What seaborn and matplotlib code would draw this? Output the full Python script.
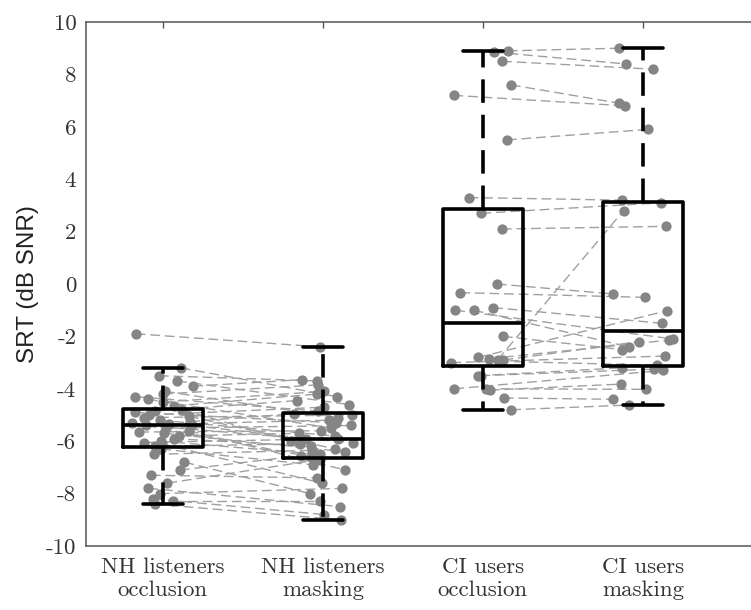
import numpy as np
import pandas as pd
import matplotlib
matplotlib.use("Agg")
import matplotlib.pyplot as plt
import seaborn as sns

# ---------------- data ----------------
categories = ["NH listeners\nocclusion", "NH listeners\nmasking",
              "CI users\nocclusion", "CI users\nmasking"]

nh_occlusion = [-1.9, -3.2, -3.5, -3.7, -3.9, -4.1, -4.2, -4.3, -4.4, -4.5, -4.65,
                -4.8, -4.85, -4.9, -5.0, -5.05, -5.1, -5.2, -5.25, -5.3, -5.35, -5.4,
                -5.4, -5.5, -5.6, -5.65, -5.7, -5.8, -5.9, -6.0, -6.05, -6.1, -6.2,
                -6.3, -6.5, -6.8, -7.1, -7.3, -7.6, -7.8, -8.0, -8.2, -8.3, -8.4]
nh_masking = [-2.4, -4.3, -3.7, -4.6, -3.65, -5.1, -3.85, -4.85, -5.5, -4.1, -4.2,
              -6.0, -4.45, -5.3, -4.7, -6.3, -5.0, -5.8, -4.95, -6.6, -5.2, -5.9,
              -6.05, -5.4, -7.1, -5.6, -6.4, -5.7, -6.2, -6.5, -5.9, -7.6, -6.1,
              -6.9, -6.35, -8.0, -6.55, -7.4, -6.7, -8.5, -7.8, -8.8, -8.3, -9.0]

ci_occlusion = [8.9, 8.85, 8.5, 7.6, 7.2, 5.5, 3.3, 2.7, 2.1, 0.0, -0.33, -0.9,
                -1.0, -1.0, -2.0, -2.8, -2.85, -2.9, -2.9, -2.95, -3.0, -3.5, -3.5,
                -4.0, -4.0, -4.05, -4.35, -4.8]
ci_masking = [9.0, 8.4, 8.2, 6.9, 6.8, 5.9, 3.2, 3.1, 2.2, -0.38, -0.51, -1.5,
              -2.1, -2.4, -2.5, -1.02, -2.14, 2.8, -2.2, -3.1, -2.75, -3.2, -3.25,
              -3.3, -4.02, -3.82, -4.4, -4.62]

y_ticks = [-10, -8, -6, -4, -2, 0, 2, 4, 6, 8, 10]
y_ticklabels = ["-10", "-8", "-6", "-4", "-2", "0", "2", "4", "6", "8", "10"]
y_label = "SRT (dB SNR)"

series = [nh_occlusion, nh_masking, ci_occlusion, ci_masking]
df = pd.DataFrame({
    "cond": np.concatenate([[c] * len(s) for c, s in zip(categories, series)]),
    "srt": np.concatenate([np.asarray(s, float) for s in series]),
})

# ---------------- figure ----------------
sns.set_style("white")
plt.rcParams["axes.unicode_minus"] = False

fig = plt.figure(figsize=(7.51, 6.10), dpi=100)
ax = fig.add_axes([86 / 751, 1 - 546 / 610, 717 / 751, 524 / 610])

np.random.seed(7)
sns.stripplot(data=df, x="cond", y="srt", order=categories, color="#858585",
              size=7.4, jitter=0.2, linewidth=0, ax=ax, zorder=2)

# connect paired observations using the positions the strip plot produced
cols = [c for c in ax.collections if len(c.get_offsets()) > 0]
offs = [np.asarray(c.get_offsets()) for c in cols]
for a, b in [(0, 1), (2, 3)]:
    pa, pb = offs[a], offs[b]
    for i in range(len(pa)):
        ax.plot([pa[i, 0], pb[i, 0]], [pa[i, 1], pb[i, 1]],
                color="#a0a0a0", lw=1.0, dashes=(7, 3.5), zorder=1.5)

n_before_lines = len(ax.lines)
n_before_patches = len(ax.patches)
sns.boxplot(data=df, x="cond", y="srt", order=categories, fill=False,
            color="black", linecolor="black", width=0.5, linewidth=2.6,
            showfliers=False, ax=ax,
            whiskerprops=dict(linestyle=(0, (6.5, 3.3))))
for ln in ax.lines[n_before_lines:]:
    ln.set_zorder(5)
for p in ax.patches[n_before_patches:]:
    p.set_zorder(5)

ax.set_xlim(-0.48, 4.0)
ax.set_ylim(-10, 10)
ax.set_yticks(y_ticks)
ax.set_yticklabels(y_ticklabels)
ax.set_xticks(range(len(categories)))
ax.set_xticklabels(categories)

for lab in ax.get_xticklabels() + ax.get_yticklabels():
    lab.set_fontfamily("cmr10")
    lab.set_fontsize(16.5)
    lab.set_color("#333333")
for lab in ax.get_xticklabels():
    lab.set_linespacing(1.25)

ax.tick_params(axis="both", direction="in", length=4, width=1.0, color="#555555")
ax.tick_params(axis="x", top=True, pad=8)
ax.tick_params(axis="y", pad=7)

ax.set_xlabel("")
ax.set_ylabel(y_label, family="Liberation Sans", fontsize=17.5, color="#222222")
ax.yaxis.set_label_coords(-47 / 717, 0.5)

for side in ["left", "bottom", "top"]:
    ax.spines[side].set_visible(True)
    ax.spines[side].set_color("#555555")
    ax.spines[side].set_linewidth(1.1)
ax.spines["right"].set_visible(False)

fig.savefig("out.png", dpi=100)
